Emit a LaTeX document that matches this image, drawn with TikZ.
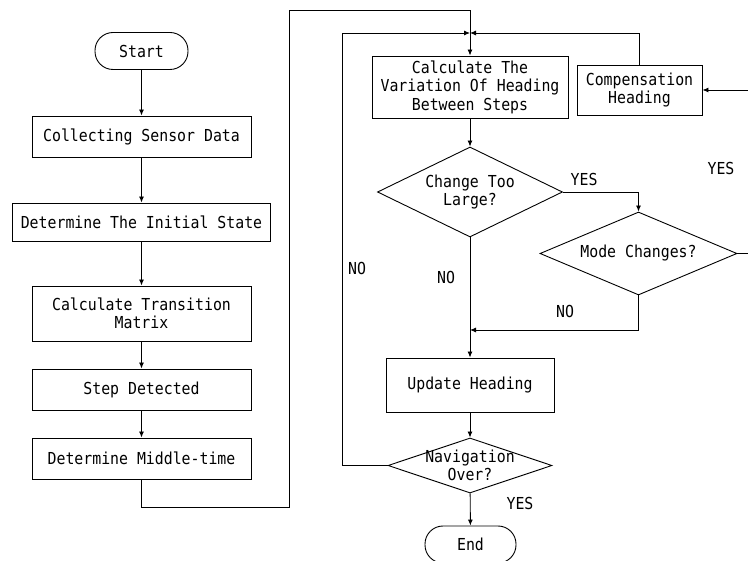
\documentclass[tikz,border=0pt]{standalone}
\usepackage{fontspec}
\setmonofont[FakeStretch=0.9]{DejaVu Sans Mono}
\usepackage{tikz}
\usetikzlibrary{arrows.meta}
\usetikzlibrary{shapes.geometric}
\tikzset{>={Latex[length=6pt,width=5pt]}}
\tikzset{
    box/.style={draw, rectangle, inner sep=0pt, align=center},
    term/.style={draw, rectangle, rounded corners=18pt, inner sep=0pt},
    decision/.style={draw, diamond, inner sep=0pt},
    answer/.style={inner sep=0pt},
}
\begin{document}
\begin{tikzpicture}[x=1pt, y=-1pt, line width=0.9pt, font=\ttfamily\fontsize{16.5}{18.5}\selectfont] % heading flowchart
	\useasboundingbox (0,0) rectangle (748,561);
	% left column
	\node[term, minimum width=93pt, minimum height=37pt] (start) at (141.5,51) {Start};
	\node[box, minimum width=219pt, minimum height=41pt] (col) at (141.5,136.5) {Collecting Sensor Data};
	\node[box, minimum width=258pt, minimum height=38pt] (init) at (141.5,222) {Determine The Initial State};
	\node[box, minimum width=219pt, minimum height=55pt] (trans) at (141.5,313.5) {Calculate Transition\\Matrix};
	\node[box, minimum width=219pt, minimum height=41pt] (step) at (141.5,389.5) {Step Detected};
	\node[box, minimum width=219pt, minimum height=41pt] (mid) at (141.5,458.5) {Determine Middle-time};
	% right column
	\node[box, minimum width=196pt, minimum height=62pt] (var) at (470,87) {Calculate The\\Variation Of Heading\\Between Steps};
	\node[box, minimum width=125pt, minimum height=50pt] (comp) at (639.5,90) {Compensation\\Heading};
	\node[decision, minimum width=185pt, minimum height=90pt,
	      label={[align=center]center:Change Too\\Large?}] (big) at (470,192) {};
	\node[decision, minimum width=197pt, minimum height=83pt,
	      label={center:Mode Changes?}] (mode) at (638.5,253.5) {};
	\node[box, minimum width=168pt, minimum height=54pt] (up) at (470,385) {Update Heading};
	\node[decision, minimum width=164pt, minimum height=55pt,
	      label={[align=center]center:Navigation\\Over?}] (nav) at (470,465.5) {};
	\node[term, minimum width=91pt, minimum height=37pt] (end) at (470.5,544.5) {End};
	% bends
	\coordinate (jn) at (470,33);
	\coordinate (lo) at (289,507);
	\coordinate (hi) at (289,10);
	\coordinate (lp) at (342,33);
	\coordinate (rt) at (756,253.5);
	\coordinate (mg) at (470,330);
	\draw[->] (start) -- (col);
	\draw[->] (col) -- (init);
	\draw[->] (init) -- (trans);
	\draw[->] (trans) -- (step);
	\draw[->] (step) -- (mid);
	\draw[->] (mid) |- (lo) -- (hi) -| (var);
	\draw[->] (var) -- (big);
	\draw[->] (big.east) -| (mode.north) node[answer, pos=0.14, above=6pt] {YES};
	\draw[->] (mode.east) -- (rt) |- (comp.east);
	\draw[->] (comp.north) |- (jn);
	\draw[->] (nav.west) -| (lp) -- (jn);
	\draw[->] (mode.south) |- (mg);
	\draw[->] (big.south) -- (up.north);
	\draw[->] (up) -- (nav);
	\draw[->] (nav) -- (end);
	% answers
	\node[answer] (y1) at (721,168) {YES};
	\node[answer] (n1) at (357,268) {NO};
	\node[answer] (n2) at (446,277) {NO};
	\node[answer] (n3) at (565,311) {NO};
	\node[answer] (y2) at (520,503) {YES};
\end{tikzpicture}
\end{document}
